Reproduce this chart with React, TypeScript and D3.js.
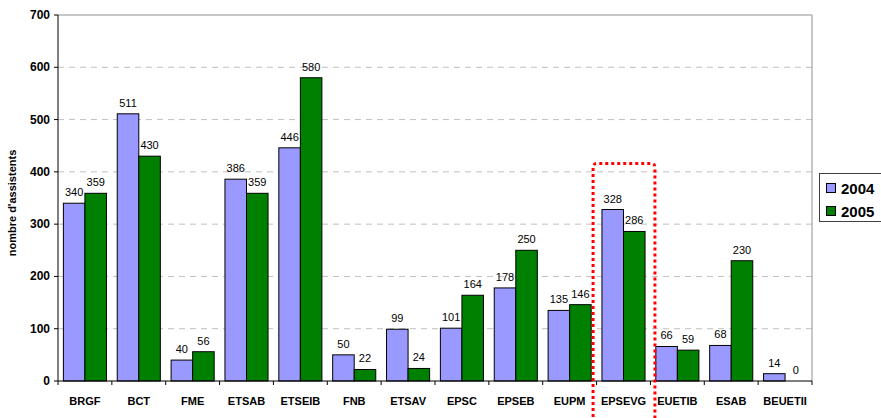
import React from 'react'
import * as d3 from 'd3'

// chart data
const categories = ['BRGF', 'BCT', 'FME', 'ETSAB', 'ETSEIB', 'FNB', 'ETSAV', 'EPSC', 'EPSEB', 'EUPM', 'EPSEVG', 'EUETIB', 'ESAB', 'BEUETII']
const values2004 = [340, 511, 40, 386, 446, 50, 99, 101, 178, 135, 328, 66, 68, 14]
const values2005 = [359, 430, 56, 359, 580, 22, 24, 164, 250, 146, 286, 59, 230, 0]
const seriesNames = ['2004', '2005']
const seriesColors = ['#9999FF', '#008000']
const yTicks = [0, 100, 200, 300, 400, 500, 600, 700]
const highlighted = 'EPSEVG'

const W = 881
const H = 418
const margin = { top: 15, right: 69, bottom: 37, left: 58 }
const font = 'Arial, "Liberation Sans", sans-serif'

const App: React.FC = () => {
  const series = [values2004, values2005]

  const x0 = d3
    .scaleBand<string>()
    .domain(categories)
    .range([margin.left, W - margin.right])
    .padding(0)
  const bw = x0.bandwidth()
  const x1 = d3
    .scaleBand<string>()
    .domain(seriesNames)
    .range([bw * 0.1, bw * 0.9])
    .padding(0)

  const y = d3
    .scaleLinear()
    .domain([0, 700])
    .range([H - margin.bottom, margin.top])

  const plotRight = W - margin.right
  const hx = x0(highlighted)!
  // highlight box edges around the EPSEVG group
  const hl = hx - 3.5
  const hr = hx + bw + 4.5
  const ht = 163.5

  return (
    <svg width={W} height={H} style={{ position: 'absolute', left: 0, top: 0 }} fontFamily={font}>
      <rect width={W} height={H} fill="#fff" />

      {/* gridlines */}
      {yTicks.filter((t) => t > 0 && t < 700).map((t) => (
        <line key={t} x1={margin.left} x2={plotRight} y1={y(t)} y2={y(t)} stroke="#c0c0c0" strokeDasharray="6,5" />
      ))}
      {/* plot border top/right */}
      <line x1={margin.left} x2={plotRight} y1={y(700)} y2={y(700)} stroke="#909090" />
      <line x1={plotRight} x2={plotRight} y1={y(700)} y2={y(0)} stroke="#909090" />

      {/* bars */}
      {series.map((vals, si) =>
        vals.map((v, i) => {
          const bx = x0(categories[i])! + x1(seriesNames[si])!
          return (
            <g key={`${si}-${i}`}>
              <rect
                x={bx}
                y={y(v)}
                width={x1.bandwidth()}
                height={y(0) - y(v)}
                fill={seriesColors[si]}
                stroke="#000"
                strokeWidth={1}
              />
              <text
                x={bx + x1.bandwidth() / 2}
                y={y(v) - 7}
                textAnchor="middle"
                fontSize={11}
                fill="#000"
              >
                {v}
              </text>
            </g>
          )
        })
      )}

      {/* y axis */}
      <line x1={margin.left} x2={margin.left} y1={y(700)} y2={y(0)} stroke="#000" />
      {yTicks.map((t) => (
        <g key={t}>
          <line x1={margin.left - 4} x2={margin.left} y1={y(t)} y2={y(t)} stroke="#000" />
          <text x={margin.left - 8} y={y(t) + 4} textAnchor="end" fontSize={12} fontWeight="bold">
            {t}
          </text>
        </g>
      ))}
      <text
        transform={`translate(16,${(y(0) + y(700)) / 2 + 5}) rotate(-90)`}
        textAnchor="middle"
        fontSize={11}
        fontWeight="bold"
      >
        nombre d'assistents
      </text>

      {/* x axis */}
      <line x1={margin.left} x2={plotRight} y1={y(0)} y2={y(0)} stroke="#000" />
      {categories.map((c) => (
        <g key={c}>
          <line x1={x0(c)!} x2={x0(c)!} y1={y(0)} y2={y(0) + 4} stroke="#000" />
          <text x={x0(c)! + bw / 2} y={y(0) + 24} textAnchor="middle" fontSize={11} fontWeight="bold">
            {c}
          </text>
        </g>
      ))}
      <line x1={plotRight} x2={plotRight} y1={y(0)} y2={y(0) + 4} stroke="#000" />

      {/* highlight box */}
      <path
        d={`M${hl},${H + 5} V${ht + 4} Q${hl},${ht} ${hl + 4},${ht} H${hr - 4} Q${hr},${ht} ${hr},${ht + 4} V${H + 5}`}
        fill="none"
        stroke="#ff0000"
        strokeWidth={3}
        strokeDasharray="3,3"
      />

      {/* legend */}
      <rect x={819.5} y={173.5} width={70} height={48} fill="#fff" stroke="#404040" />
      {seriesNames.map((s, i) => (
        <g key={s}>
          <rect x={826.5} y={183.5 + i * 23} width={9} height={9} fill={seriesColors[i]} stroke="#000" />
          <text x={841} y={194 + i * 23} fontSize={15} fontWeight="bold">
            {s}
          </text>
        </g>
      ))}
    </svg>
  )
}

export default App
